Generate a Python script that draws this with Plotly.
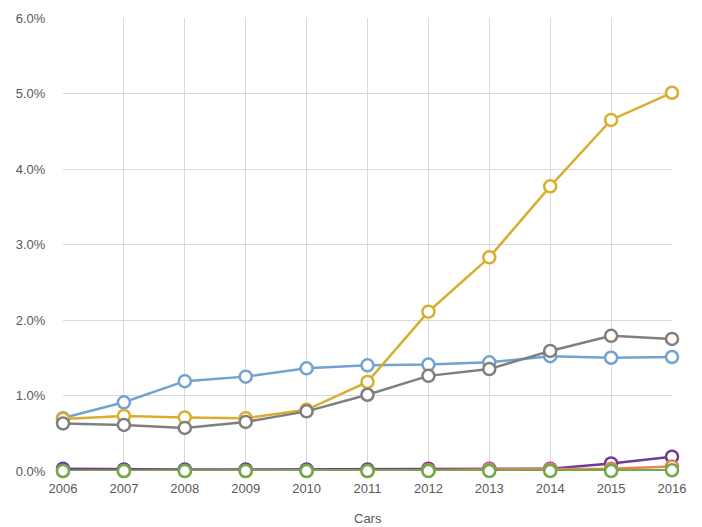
import plotly.graph_objects as go

years = [2006, 2007, 2008, 2009, 2010, 2011, 2012, 2013, 2014, 2015, 2016]
blue = [0.70, 0.91, 1.19, 1.25, 1.36, 1.40, 1.41, 1.44, 1.52, 1.50, 1.51]
yellow = [0.69, 0.73, 0.71, 0.70, 0.81, 1.18, 2.11, 2.83, 3.77, 4.65, 5.01]
gray = [0.63, 0.61, 0.57, 0.65, 0.79, 1.01, 1.26, 1.35, 1.59, 1.79, 1.75]
purple = [0.03, 0.02, 0.02, 0.02, 0.02, 0.02, 0.03, 0.03, 0.03, 0.10, 0.19]
orange = [0.00, 0.00, 0.00, 0.00, 0.00, 0.00, 0.01, 0.02, 0.02, 0.03, 0.06]
green = [0.00, 0.00, 0.00, 0.00, 0.00, 0.00, 0.00, 0.00, 0.00, 0.00, 0.01]

series = [
    (blue, "#72A2D0"),
    (yellow, "#D9AE2E"),
    (gray, "#7F7F7F"),
    (purple, "#6E3B96"),
    (orange, "#E8834A"),
    (green, "#70A94A"),
]

fig = go.Figure()
for vals, col in series:
    fig.add_trace(go.Scatter(
        x=years, y=[v / 100 for v in vals], mode="lines+markers",
        line=dict(color=col, width=2.5),
        marker=dict(symbol="circle", size=12, color="white",
                    line=dict(color=col, width=2.5)),
        cliponaxis=False, showlegend=False,
    ))

fig.add_annotation(
    text="Cars", xref="paper", yref="paper", x=0.5, y=0,
    yshift=-47, yanchor="middle", showarrow=False,
    font=dict(size=13, color="#595959"),
)

fig.update_layout(
    width=702, height=527,
    margin=dict(l=63, r=30, t=18, b=56),
    paper_bgcolor="white", plot_bgcolor="white",
    font=dict(family="Liberation Sans, Arial, sans-serif", size=13, color="#595959"),
    xaxis=dict(
        range=[2006, 2016], tickmode="array", tickvals=years,
        ticktext=[str(y) for y in years],
        showgrid=True, gridcolor="#D9D9D9", gridwidth=1,
        zeroline=False, showline=False, automargin=False,
        ticks="outside", ticklen=5, tickcolor="rgba(0,0,0,0)",
    ),
    yaxis=dict(
        range=[0, 0.06], tickvals=[0, 0.01, 0.02, 0.03, 0.04, 0.05, 0.06],
        tickformat=".1%", automargin=False,
        showgrid=True, gridcolor="#D9D9D9", gridwidth=1,
        zeroline=False, showline=False,
        ticks="outside", ticklen=14, tickcolor="rgba(0,0,0,0)",
    ),
)

fig.write_html("out.html")
